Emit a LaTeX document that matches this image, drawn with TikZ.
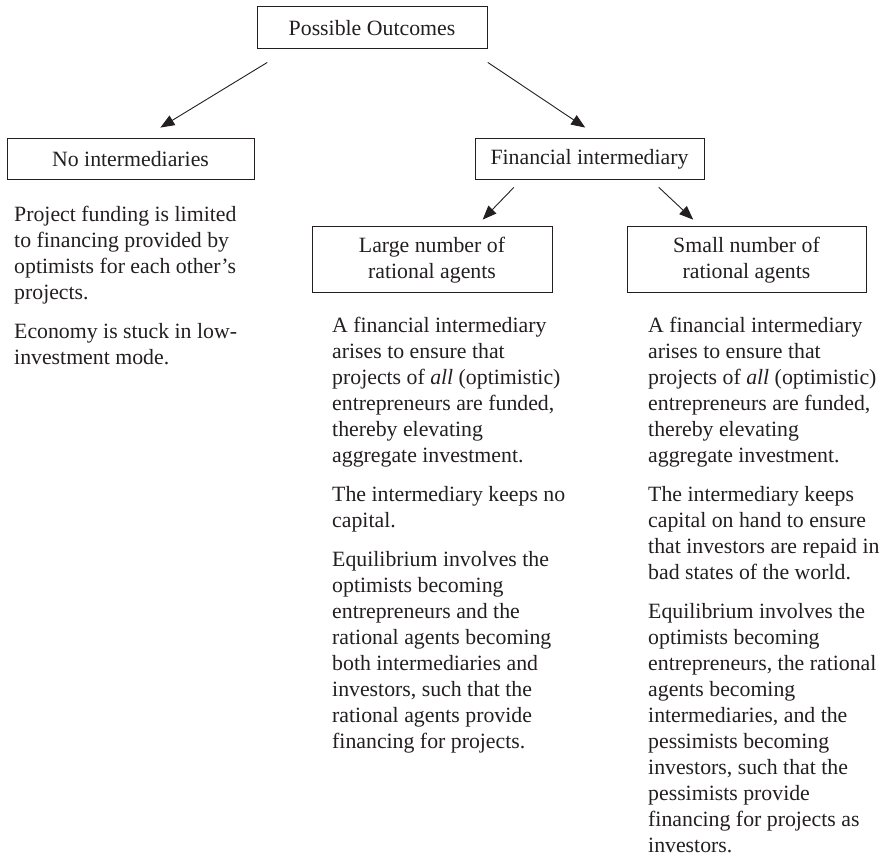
\documentclass[tikz,border=0pt]{standalone}
\usepackage{fontspec}
\setmainfont{Liberation Serif}
\usepackage{color}
\usepackage{tikz}
\usetikzlibrary{arrows.meta}
\definecolor{ink}{HTML}{231F20}
\tikzset{>/.tip={Triangle[length=14pt,width=11pt]},
  box/.style={draw=ink, line width=1pt, align=center, inner sep=0pt, text=ink,
    font=\fontsize{21.8}{26}\selectfont},
  blurb/.style={anchor=north west, align=left, inner sep=0pt, text=ink,
    font=\fontsize{21.8}{26}\selectfont},
  link/.style={->, draw=ink, line width=0.9pt}}

\begin{document}
\begin{tikzpicture}[x=1pt, y=-1pt]
\useasboundingbox (0,0) rectangle (883,858);

\node[box, minimum width=230pt, minimum height=42pt] (outc) at (372,28) {Possible Outcomes};
\node[box, minimum width=247pt, minimum height=41pt] (noint) at (130.5,159.5) {No intermediaries};
\node[box, minimum width=229pt, minimum height=41pt] (finint) at (589.5,159.5) {Financial intermediary};
\node[box, minimum width=240pt, minimum height=66pt] (large) at (432,260) {Large number of\\rational agents};
\node[box, minimum width=239pt, minimum height=66pt] (small) at (746.5,260) {Small number of\\rational agents};

% texts under the boxes
\node[blurb] (notext) at (14,202.8) {\strut Project funding is limited\\
  to financing provided by\\
  optimists for each other’s\\
  projects.\\[13pt]
  Economy is stuck in low-\\
  investment mode.};
\node[blurb] (largetext) at (332,313.8) {\strut A financial intermediary\\
  arises to ensure that\\
  projects of \textit{all} (optimistic)\\
  entrepreneurs are funded,\\
  thereby elevating\\
  aggregate investment.\\[13pt]
  The intermediary keeps no\\
  capital.\\[13pt]
  Equilibrium involves the\\
  optimists becoming\\
  entrepreneurs and the\\
  rational agents becoming\\
  both intermediaries and\\
  investors, such that the\\
  rational agents provide\\
  financing for projects.};
\node[blurb] (smalltext) at (648,313.8) {\strut A financial intermediary\\
  arises to ensure that\\
  projects of \textit{all} (optimistic)\\
  entrepreneurs are funded,\\
  thereby elevating\\
  aggregate investment.\\[13pt]
  The intermediary keeps\\
  capital on hand to ensure\\
  that investors are repaid in\\
  bad states of the world.\\[13pt]
  Equilibrium involves the\\
  optimists becoming\\
  entrepreneurs, the rational\\
  agents becoming\\
  intermediaries, and the\\
  pessimists becoming\\
  investors, such that the\\
  pessimists provide\\
  financing for projects as\\
  investors.};

\draw[link, shorten <=24.9pt, shorten >=21pt] ([xshift=32pt]outc.south west) -- ([xshift=12pt]noint.north);
\draw[link, shorten <=23.2pt, shorten >=19.6pt] ([xshift=-19pt]outc.south east) -- ([xshift=12pt]finint.north);
\draw[link, shorten <=9.6pt, shorten >=9.6pt] ([xshift=-69pt]finint.south) -- ([xshift=44pt]large.north);
\draw[link, shorten <=10pt, shorten >=10pt] ([xshift=62pt]finint.south) -- ([xshift=-46pt]small.north);
\end{tikzpicture}
\end{document}
